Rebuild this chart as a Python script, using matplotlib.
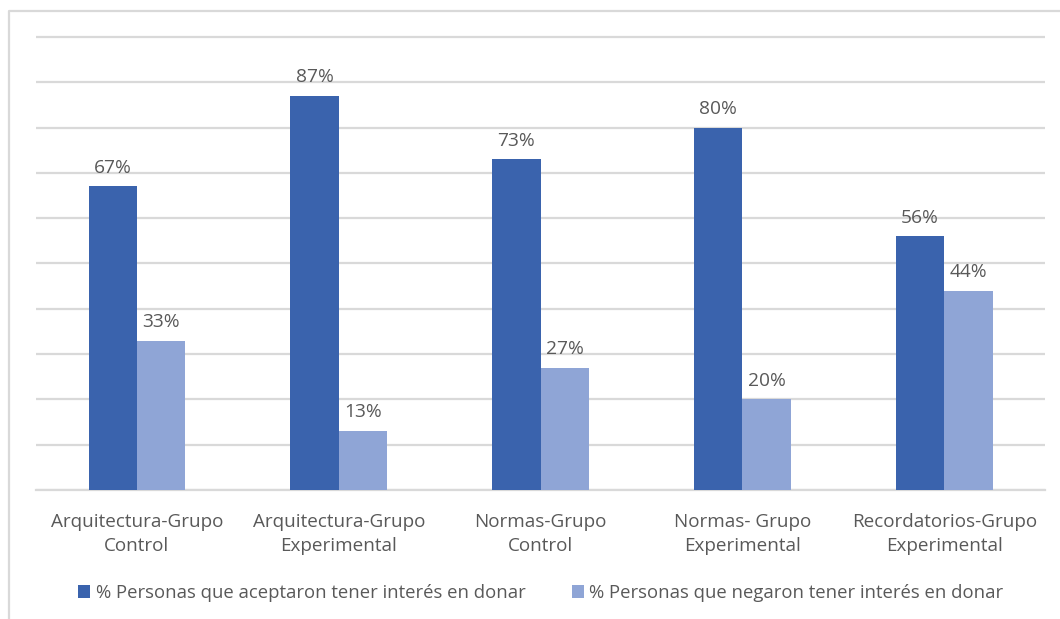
import numpy as np
import matplotlib.pyplot as plt
from matplotlib.lines import Line2D

# Datos
# =============================================================================
grupos = ['Arquitectura-Grupo\nControl', 'Arquitectura-Grupo\nExperimental',
          'Normas-Grupo\nControl', 'Normas- Grupo\nExperimental',
          'Recordatorios-Grupo\nExperimental']
aceptaron = [67, 87, 73, 80, 56]
negaron = [33, 13, 27, 20, 44]
serie_aceptaron = '% Personas que aceptaron tener interés en donar'
serie_negaron = '% Personas que negaron tener interés en donar'

azul_oscuro = '#3A63AD'
azul_claro = '#8FA5D6'
gris_texto = '#595959'
gris_linea = '#D9D9D9'

plt.rcParams['font.family'] = ['Open Sans', 'DejaVu Sans']

# Grafico
# =============================================================================
fig = plt.figure(figsize=(10.6, 6.19), dpi=100)
ax = fig.add_axes([0.034, 0.2084, 0.952, 0.7348])

x = np.arange(len(grupos))
ancho = 0.24
b1 = ax.bar(x - ancho / 2, aceptaron, ancho, color=azul_oscuro, label=serie_aceptaron, zorder=3)
b2 = ax.bar(x + ancho / 2, negaron, ancho, color=azul_claro, label=serie_negaron, zorder=3)

for barras, valores in ((b1, aceptaron), (b2, negaron)):
    for barra, v in zip(barras, valores):
        ax.annotate('{}%'.format(v), (barra.get_x() + barra.get_width() / 2, v),
                    xytext=(0, 7), textcoords='offset points', ha='center', va='bottom',
                    fontsize=13.8, color=gris_texto)

ax.set_xlim(-0.5, len(grupos) - 0.5)
ax.set_ylim(0, 100.4)
ax.set_yticks(np.arange(0, 101, 10))
ax.yaxis.grid(True, color=gris_linea, linewidth=1.6, zorder=0)
ax.tick_params(axis='y', left=False, labelleft=False)
ax.tick_params(axis='x', bottom=False, pad=13)
ax.set_xticks(x)
ax.set_xticklabels(grupos, fontsize=13.6, color=gris_texto, linespacing=1.45)
for lado in ('top', 'right', 'left'):
    ax.spines[lado].set_visible(False)
ax.spines['bottom'].set_color(gris_linea)
ax.spines['bottom'].set_linewidth(1.6)

fig.legend(loc='center', bbox_to_anchor=(0.51, 0.042), ncol=2, frameon=False,
           fontsize=13.3, labelcolor=gris_texto, handlelength=0.65, handleheight=0.65,
           handletextpad=0.3, columnspacing=2.5)

# borde exterior del area del grafico
fig.add_artist(Line2D([0.0085, 0.0085, 1.0], [0.0, 0.982, 0.982],
                      transform=fig.transFigure, color=gris_linea, linewidth=1.6))

fig.savefig('out.png', dpi=100)
